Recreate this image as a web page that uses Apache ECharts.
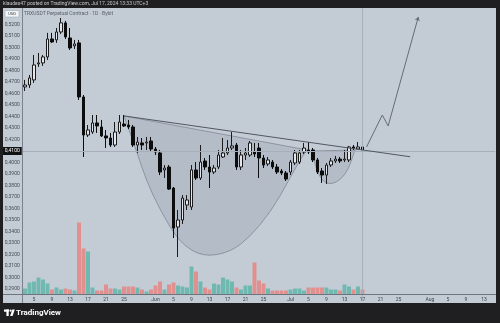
<!DOCTYPE html>
<html>
<head>
<meta charset="utf-8">
<script src="https://cdn.jsdelivr.net/npm/echarts@6/dist/echarts.min.js"></script>
<style>
html, body { margin: 0; padding: 0; background: #1f1f21; }
#chart { width: 500px; height: 323px; }
</style>
</head>
<body>
<div id="chart"></div>
<script>
// daily candles, May 3 .. Jul 17 2024
var opens = [0.4657,0.4674,0.4718,0.4857,0.4866,0.4918,0.5074,0.5066,0.5135,0.5214,
  0.5083,0.5014,0.5040,0.4570,0.4239,0.4265,0.4344,0.4309,0.4231,0.4213,
  0.4152,0.4265,0.4335,0.4326,0.4309,0.4152,0.4170,0.4170,0.4187,0.4117,
  0.4083,0.3935,0.3961,0.3778,0.3439,0.3500,0.3630,0.3613,0.3935,0.3865,
  0.4013,0.3961,0.3917,0.3961,0.4048,0.4083,0.4126,0.4152,0.3961,0.4065,
  0.4065,0.4091,0.4126,0.4039,0.3987,0.4004,0.3961,0.3926,0.3909,0.3917,
  0.3996,0.4004,0.4091,0.4109,0.4109,0.4022,0.3926,0.3891,0.3978,0.4013,
  0.4030,0.4022,0.4022,0.4135,0.4117,0.4135];
var closes = [0.4674,0.4735,0.4848,0.4866,0.4918,0.5074,0.5048,0.5135,0.5214,0.5092,
  0.4996,0.5031,0.4570,0.4239,0.4283,0.4344,0.4318,0.4231,0.4213,0.4152,
  0.4265,0.4352,0.4318,0.4309,0.4152,0.4178,0.4152,0.4178,0.4117,0.4091,
  0.3917,0.3952,0.3769,0.3430,0.3500,0.3691,0.3674,0.3935,0.3865,0.4004,
  0.3961,0.3917,0.3952,0.4065,0.4083,0.4126,0.4144,0.3961,0.4065,0.4083,
  0.4170,0.4074,0.4039,0.3978,0.4022,0.3961,0.3917,0.3909,0.3856,0.4004,
  0.4083,0.4083,0.4126,0.4091,0.4022,0.3917,0.3891,0.3978,0.4013,0.4030,
  0.4013,0.4030,0.4135,0.4126,0.4135,0.4109];
var lows = [0.4622,0.4648,0.4692,0.4831,0.4840,0.4892,0.5040,0.5040,0.5118,0.5074,
  0.4979,0.4987,0.4544,0.4048,0.4222,0.4248,0.4257,0.4222,0.4126,0.4135,
  0.4135,0.4248,0.4309,0.4291,0.4135,0.4083,0.4109,0.4109,0.4091,0.4065,
  0.3891,0.3865,0.3761,0.3343,0.3178,0.3465,0.3587,0.3587,0.3848,0.3848,
  0.3935,0.3778,0.3900,0.3943,0.4039,0.4065,0.4109,0.3935,0.3935,0.4022,
  0.4048,0.4048,0.3865,0.3952,0.3970,0.3943,0.3900,0.3891,0.3839,0.3891,
  0.3978,0.3987,0.4074,0.4074,0.4004,0.3900,0.3822,0.3813,0.3961,0.3996,
  0.3996,0.4004,0.4004,0.4109,0.4109,0.4100];
var highs = [0.4718,0.4761,0.4935,0.4953,0.4935,0.5127,0.5127,0.5170,0.5257,0.5231,
  0.5170,0.5066,0.5066,0.4587,0.4326,0.4413,0.4413,0.4370,0.4283,0.4257,
  0.4352,0.4413,0.4413,0.4370,0.4326,0.4222,0.4213,0.4222,0.4222,0.4135,
  0.4109,0.3978,0.3978,0.3787,0.3587,0.3717,0.3717,0.3978,0.4004,0.4152,
  0.4039,0.4065,0.3978,0.4109,0.4213,0.4196,0.4265,0.4170,0.4109,0.4126,
  0.4187,0.4170,0.4170,0.4065,0.4048,0.4022,0.3987,0.3943,0.3926,0.4022,
  0.4109,0.4109,0.4170,0.4178,0.4126,0.4039,0.3952,0.3996,0.4039,0.4057,
  0.4048,0.4109,0.4144,0.4152,0.4178,0.4152];
var volumes = [6,12,13,17,15,11,5,7,5,6,
  5,4,72,46,43,7,4,4,10,6,
  6,5,8,8,8,7,5,3,5,9,
  13,5,10,12,9,8,7,28,23,13,
  7,5,11,10,17,15,13,7,5,9,
  9,32,14,11,6,4,4,4,4,5,
  6,6,4,7,7,7,7,7,5,5,
  4,10,8,5,8,5];

// bottom axis labels
var tickDates = ['2024-05-05','2024-05-09','2024-05-13','2024-05-17','2024-05-21','2024-05-25',
  '2024-06-01','2024-06-05','2024-06-09','2024-06-13','2024-06-17','2024-06-21','2024-06-25',
  '2024-07-01','2024-07-05','2024-07-09','2024-07-13','2024-07-17','2024-07-21','2024-07-25',
  '2024-08-01','2024-08-05','2024-08-09','2024-08-13'];
var tickTexts = ['5','9','13','17','21','25','Jun','5','9','13','17','21','25',
  'Jul','5','9','13','17','21','25','Aug','5','9','13'];

// drawings (x = bar index, y = price)
var trendIdx = [22.0, 85.6];
var trendPrice = [0.4405, 0.4050];
var cupIdx = [22.0, 24.7, 26.9, 30.0, 34.4, 39.6, 45.6, 50.0, 54.9, 58.4, 61.1, 62.7];
var cupPrice = [0.4405, 0.4109, 0.3848, 0.3587, 0.3300, 0.3178, 0.3221, 0.3352, 0.3587, 0.3830, 0.4022, 0.4109];
var handleIdx = [63.8, 64.5, 65.6, 67.1, 69.1, 71.1, 72.4, 73.3];
var handlePrice = [0.4100, 0.3970, 0.3865, 0.3813, 0.3822, 0.3891, 0.3996, 0.4109];
var pathIdx = [75.9, 79.4, 80.7, 87.4];
var pathPrice = [0.4135, 0.4413, 0.4318, 0.5266];

// calendar: May 3 .. Aug 15
var dates = [];
for (var d = 0; d < 105; d++) {
  var t = new Date(Date.UTC(2024, 4, 3 + d));
  dates.push(t.toISOString().slice(0, 10));
}

var candles = [];
var vols = [];
for (var i = 0; i < opens.length; i++) {
  candles.push([opens[i], closes[i], lows[i], highs[i]]);
  vols.push({
    value: volumes[i],
    itemStyle: { color: closes[i] >= opens[i] ? '#70b9b1' : '#e0918f' }
  });
}
var lastClose = closes[closes.length - 1];

function fmt(v) {
  return v.toFixed(4).replace('.', ',');
}

function zip(a, b) {
  return a.map(function (x, k) { return [x, b[k]]; });
}

function smoothPath(pts) {
  var s = 'M' + pts[0][0] + ' ' + pts[0][1];
  for (var k = 1; k < pts.length - 1; k++) {
    var mx = (pts[k][0] + pts[k + 1][0]) / 2;
    var my = (pts[k][1] + pts[k + 1][1]) / 2;
    s += ' Q' + pts[k][0] + ' ' + pts[k][1] + ' ' + mx + ' ' + my;
  }
  var last = pts[pts.length - 1];
  s += ' L' + last[0] + ' ' + last[1] + ' Z';
  return s;
}

var myChart = echarts.init(document.getElementById('chart'));
var dark = '#1f1f21';
var font = 'Roboto, "Liberation Sans", sans-serif';

myChart.setOption({
  animation: false,
  backgroundColor: '#c3cbd5',
  textStyle: { fontFamily: font },
  grid: [
    { left: 22.75, width: 472.5, top: 1.5, height: 299 },
    { left: 22.75, width: 472.5, top: 194.5, height: 100 }
  ],
  xAxis: [
    { type: 'category', gridIndex: 0, data: dates, show: false },
    { type: 'value', gridIndex: 0, min: -0.5, max: 104.5, show: false },
    {
      type: 'category', gridIndex: 1, data: dates,
      axisLine: { show: false },
      axisTick: { show: false },
      splitLine: { show: false },
      axisLabel: {
        margin: 3,
        fontSize: 5,
        color: '#3e444c',
        interval: function (index, value) { return tickDates.indexOf(value) >= 0; },
        formatter: function (value) {
          var k = tickDates.indexOf(value);
          return k >= 0 ? tickTexts[k] : '';
        }
      }
    }
  ],
  yAxis: [
    {
      type: 'value', gridIndex: 0, position: 'left',
      min: 0.28, max: 0.54, interval: 0.01,
      axisLine: { show: false },
      axisTick: { show: false },
      splitLine: { show: false },
      axisLabel: {
        margin: 3,
        fontSize: 5,
        color: '#464d56',
        showMinLabel: false,
        showMaxLabel: false,
        formatter: function (v) { return v > 0.525 ? '' : fmt(v); }
      }
    },
    { type: 'value', gridIndex: 1, min: 0, max: 100, show: false }
  ],
  series: [
    {
      type: 'custom',
      xAxisIndex: 1, yAxisIndex: 0,
      z: 1,
      clip: false,
      data: [[0, 0.4], [1, 0.4]],
      renderItem: function (params, api) {
        var xs = params.dataIndex === 0 ? cupIdx : handleIdx;
        var ys = params.dataIndex === 0 ? cupPrice : handlePrice;
        var pts = xs.map(function (x, k) { return api.coord([x, ys[k]]); });
        return {
          type: 'path',
          shape: { pathData: smoothPath(pts) },
          style: { fill: 'rgba(85,96,115,0.13)', stroke: 'rgba(70,78,92,0.5)', lineWidth: 0.8 }
        };
      }
    },
    {
      type: 'bar',
      xAxisIndex: 2, yAxisIndex: 1,
      data: vols,
      barCategoryGap: '12%',
      z: 2
    },
    {
      type: 'candlestick',
      xAxisIndex: 0, yAxisIndex: 0,
      data: candles,
      barWidth: 3,
      z: 4,
      itemStyle: {
        color: '#e3e6eb',
        color0: '#0d0d0d',
        borderColor: '#1b1b1b',
        borderColor0: '#0d0d0d',
        borderWidth: 1
      },
      markLine: {
        silent: true,
        symbol: 'none',
        lineStyle: { color: '#a6afba', width: 1, type: 'solid' },
        data: [
          {
            yAxis: lastClose,
            label: {
              show: true,
              position: 'start',
              distance: 1,
              formatter: function (p) { return fmt(p.value); },
              backgroundColor: '#111214',
              color: '#ffffff',
              fontSize: 5,
              padding: [1.5, 2]
            }
          },
          { xAxis: dates[closes.length - 1], label: { show: false } }
        ]
      }
    },
    {
      type: 'lines',
      coordinateSystem: 'cartesian2d',
      xAxisIndex: 1, yAxisIndex: 0,
      z: 5,
      lineStyle: { color: '#525861', width: 1, opacity: 1 },
      data: [{ coords: zip(trendIdx, trendPrice) }]
    },
    {
      type: 'lines',
      coordinateSystem: 'cartesian2d',
      xAxisIndex: 1, yAxisIndex: 0,
      polyline: true,
      z: 5,
      lineStyle: { color: '#666c75', width: 1, opacity: 1 },
      data: [{ coords: zip(pathIdx.slice(0, 3), pathPrice.slice(0, 3)) }]
    },
    {
      type: 'lines',
      coordinateSystem: 'cartesian2d',
      xAxisIndex: 1, yAxisIndex: 0,
      z: 5,
      symbol: ['none', 'arrow'],
      symbolSize: 4,
      lineStyle: { color: '#666c75', width: 1, opacity: 1 },
      data: [{ coords: zip(pathIdx.slice(2), pathPrice.slice(2)) }]
    }
  ],
  graphic: [
    { type: 'line', z: 50, shape: { x1: 22.5, y1: 8, x2: 22.5, y2: 303 }, style: { stroke: '#79818c', lineWidth: 1 } },
    { type: 'line', z: 50, shape: { x1: 3, y1: 294.5, x2: 496, y2: 294.5 }, style: { stroke: '#6c747f', lineWidth: 1 } },
    { type: 'rect', z: 100, shape: { x: 0, y: 0, width: 500, height: 8 }, style: { fill: dark } },
    { type: 'rect', z: 100, shape: { x: 0, y: 303, width: 500, height: 20 }, style: { fill: dark } },
    { type: 'rect', z: 100, shape: { x: 0, y: 0, width: 3, height: 323 }, style: { fill: dark } },
    { type: 'rect', z: 100, shape: { x: 496, y: 0, width: 4, height: 323 }, style: { fill: dark } },
    { type: 'text', z: 101, left: 3, top: 1.5, style: { text: 'klaudes47 posted on TradingView.com, Jul 17, 2024 13:33 UTC+3', fill: '#c9c9c9', fontSize: 5, fontFamily: font } },
    { type: 'rect', z: 101, shape: { x: 5, y: 10.5, width: 14, height: 6.5 }, style: { fill: '#f2f4f7', stroke: '#9aa1ab', lineWidth: 0.5 } },
    { type: 'text', z: 102, x: 12, y: 13.8, style: { text: 'USD', fill: '#333', fontSize: 4, fontFamily: font, align: 'center', verticalAlign: 'middle' } },
    { type: 'text', z: 101, left: 24, top: 11, style: { text: 'TRXUSDT Perpetual Contract · 1D · Bybit', fill: '#5a616b', fontSize: 5, fontFamily: font } },
    { type: 'rect', z: 101, shape: { x: 4, y: 309.5, width: 5, height: 2.2 }, style: { fill: '#ffffff' } },
    { type: 'rect', z: 101, shape: { x: 6.4, y: 309.5, width: 2.3, height: 6.5 }, style: { fill: '#ffffff' } },
    { type: 'circle', z: 101, shape: { cx: 10.6, cy: 310.7, r: 1.1 }, style: { fill: '#ffffff' } },
    { type: 'polygon', z: 101, shape: { points: [[12.3, 309.5], [14.8, 309.5], [12.6, 316], [10.1, 316]] }, style: { fill: '#ffffff' } },
    { type: 'text', z: 101, left: 16, top: 308.5, style: { text: 'TradingView', fill: '#ffffff', fontSize: 8, fontWeight: 'bold', fontFamily: font } }
  ]
});
</script>
</body>
</html>
